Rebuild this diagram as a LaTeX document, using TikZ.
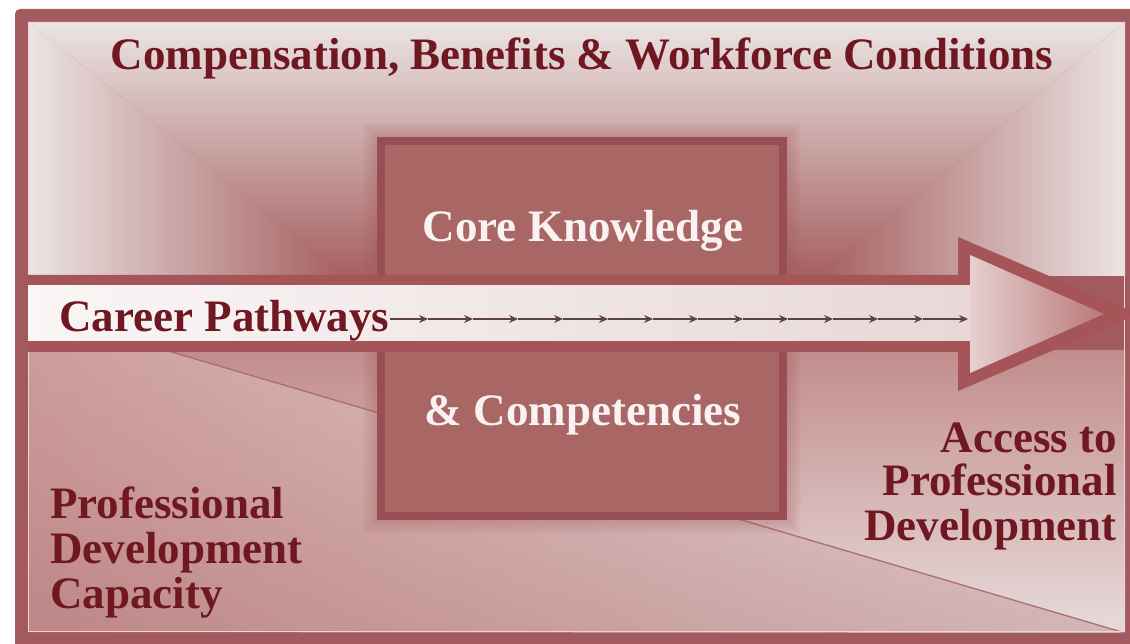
\documentclass[tikz,border=0pt]{standalone}
\usepackage{fontspec}
\setmainfont{Liberation Serif}
\usetikzlibrary{arrows.meta,fadings}

\definecolor{frameC}{RGB}{163,90,94}
\definecolor{arrowC}{RGB}{165,84,88}
\definecolor{boxFill}{RGB}{168,102,100}
\definecolor{boxEdge}{RGB}{152,78,82}
\definecolor{bgLight}{RGB}{236,228,228}
\definecolor{bgDark}{RGB}{166,96,96}
\definecolor{botLeftA}{RGB}{205,156,156}
\definecolor{botRightTop}{RGB}{194,140,140}
\definecolor{botRightBot}{RGB}{232,219,219}
\definecolor{divLine}{RGB}{172,112,116}
\definecolor{shaftL}{RGB}{250,246,246}
\definecolor{shaftR}{RGB}{232,216,216}
\definecolor{headL}{RGB}{230,208,208}
\definecolor{headR}{RGB}{186,120,120}
\definecolor{txtDark}{RGB}{112,24,34}
\definecolor{txtLight}{RGB}{250,242,242}
\definecolor{smallArr}{RGB}{92,66,66}
\definecolor{edgeHi}{RGB}{238,212,212}

\tikzset{
  bigtxt/.style={font=\fontsize{45}{47}\selectfont\bfseries, inner sep=0pt},
  darktxt/.style={bigtxt, text=txtDark},
  lighttxt/.style={bigtxt, text=txtLight},
  smallarr/.style={draw=smallArr, line width=1.1pt, -{Stealth[length=9pt,width=8pt]}},
  corebox/.style={draw=boxEdge, line width=8pt, fill=boxFill, minimum width=402pt, minimum height=375pt, inner sep=0pt}
}

\begin{document}
\begin{tikzpicture}[x=1pt,y=-1pt]
\useasboundingbox (0,0) rectangle (1130,644);
\begin{scope}
\clip (0,0) rectangle (1130,644);
\fill[white] (0,0) rectangle (1130,644);
% frame
\fill[frameC, rounded corners=5pt] (15,9) rectangle (1150,670);

% top region (path gradient look)
\coordinate (TL) at (28,22);
\coordinate (TR) at (1125,22);
\coordinate (CL) at (345,276);
\coordinate (CR) at (820,276);
\coordinate (BL) at (28,276);
\coordinate (BR) at (1125,276);
\shade[top color=bgLight, bottom color=bgDark] (TL) -- (TR) -- (CR) -- (CL) -- cycle;
\shade[left color=bgLight, right color=bgDark] (TL) -- (CL) -- (BL) -- cycle;
\shade[left color=bgDark, right color=bgLight] (TR) -- (BR) -- (CR) -- cycle;

% bottom region
\coordinate (LA) at (165,350);
\coordinate (LB) at (1125,633);
\shade[left color=botLeftA, right color=bgLight] (28,350) -- (LA) -- (LB) -- (28,632) -- cycle;
\fill[bgDark, path fading=north, opacity=0.35] (28,350) -- (LA) -- (LB) -- (28,632) -- cycle;
\shade[top color=botRightTop, bottom color=botRightBot] (LA) -- (1125,350) -- (LB) -- cycle;
\draw[divLine, line width=1.4pt] (LA) -- (LB);

% inner highlight of frame
\draw[edgeHi, line width=1.2pt] (28.6,22.6) rectangle (1124.4,631.4);

% soft halo around central box
\foreach \d in {2,4,...,14} {
  \fill[bgDark, opacity=0.05] ({377-\d},{137-\d}) rectangle ({787+\d},{520+\d});
}

% central box
\node[corebox] (box) at (582,328.5) {};

% big arrow
\fill[arrowC] (28,275) -- (958,275) -- (958,237) -- (1138,314) -- (958,391) -- (958,352) -- (28,352) -- cycle;
\shade[left color=shaftL, right color=shaftR] (28,286) rectangle (970,341);
\shade[left color=headL, right color=headR] (970,255) -- (1104,314) -- (970,373) -- cycle;

% texts
\node[darktxt, anchor=base] (title) at (582,70) {Compensation, Benefits \& Workforce Conditions};
\node[lighttxt, anchor=base] (ck) at (583,242) {Core Knowledge};
\node[lighttxt, anchor=base] (comp) at (583,425) {\& Competencies};
\node[darktxt, anchor=base west] (cp) at (59,332) {Career Pathways};

\node[darktxt, anchor=base west] (pdc1) at (50,518) {Professional};
\node[darktxt, anchor=base west] (pdc2) at (50,563) {Development};
\node[darktxt, anchor=base west] (pdc3) at (50,608) {Capacity};

\node[darktxt, anchor=base east] (apd1) at (1117,452) {Access to};
\node[darktxt, anchor=base east] (apd2) at (1117,495) {Professional};
\node[darktxt, anchor=base east] (apd3) at (1117,540) {Development};

% small arrows along the pathway
\foreach \i in {0,...,12} { \coordinate (h\i) at ({428+45*\i},319); }
\draw[smallarr] (cp.east |- h0) -- (h0);
\foreach \i [remember=\i as \j (initially 0)] in {1,...,12} { \draw[smallarr] (h\j) -- (h\i); }
\end{scope}
\end{tikzpicture}
\end{document}
